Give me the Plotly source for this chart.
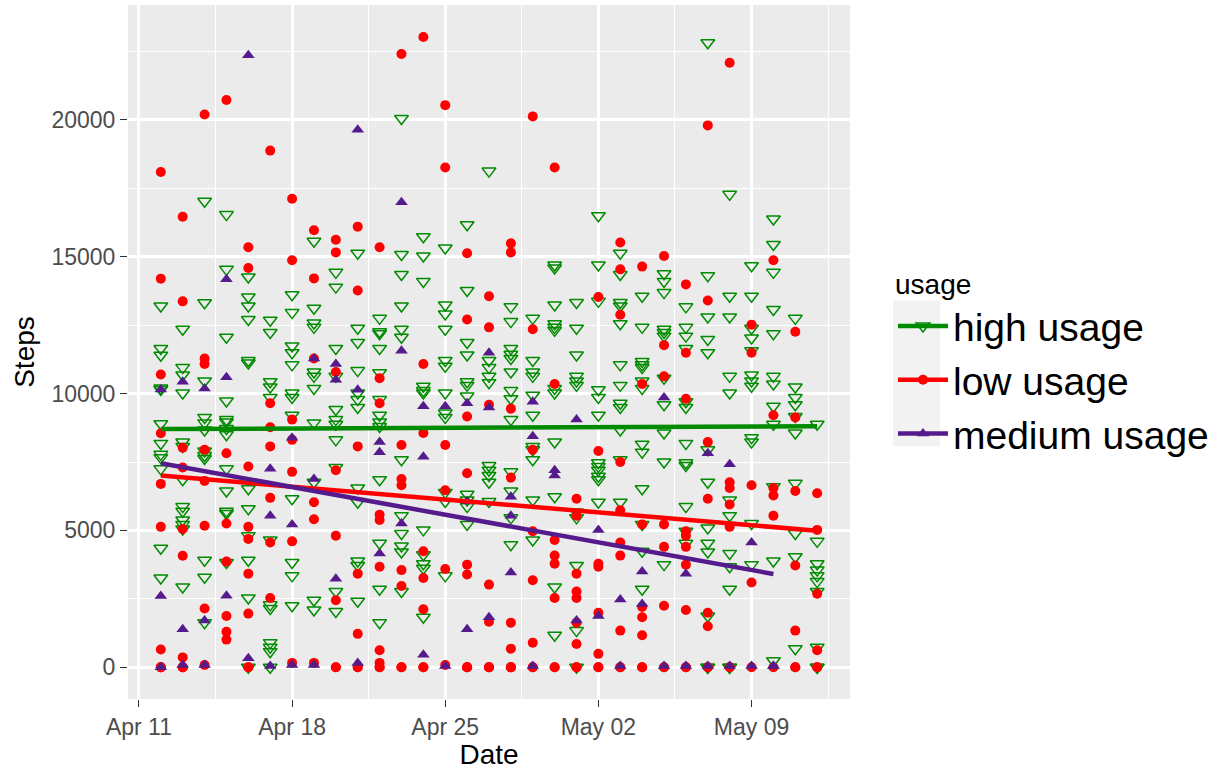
import numpy as np
import pandas as pd
import plotly.graph_objects as go

dates = pd.date_range("2016-04-12", "2016-05-12", freq="D")

high_steps = [
    [13200, 11650, 11400, 10200, 10150, 8900, 8180, 7780, 7660, 7250, 4350, 3260],
    [12350, 10950, 10680, 10020, 8230, 8070, 6850, 5870, 5700, 5380, 5220, 5050, 2930],
    [17030, 13320, 10460, 9130, 8930, 8670, 7900, 7740, 7630, 3910, 3290, 1630],
    [16540, 14540, 12060, 9730, 9050, 8960, 8720, 8500, 7250, 6440, 5700, 5620, 3830],
    [14260, 13530, 13200, 12710, 11210, 11120, 6520, 5790, 4810, 3910, 2530, 0],
    [12680, 12230, 10430, 10240, 9860, 4650, 2280, 2150, 900, 730, 570, 0],
    [13610, 12960, 11740, 11490, 11050, 10020, 9860, 9210, 6160, 3830, 3340, 2250],
    [15570, 13120, 12580, 12420, 10790, 10630, 10190, 8930, 6760, 2450, 2090],
    [14430, 13890, 11650, 10630, 9420, 9050, 8880, 8310, 7300, 2770, 2040],
    [15130, 12390, 11870, 10840, 10020, 9780, 9490, 6550, 6030, 3880, 3720, 2410],
    [12750, 12260, 12190, 11650, 10760, 9780, 9210, 8960, 8800, 6850, 4530, 2850, 1630],
    [20050, 15080, 14350, 13200, 12350, 12060, 7580, 5540, 4890, 4430, 4210, 2770],
    [15730, 15030, 14100, 10270, 10110, 10020, 5020, 4110, 3780, 3620, 1830],
    [15320, 13240, 12910, 12350, 11210, 11000, 10020, 9290, 9130, 6390, 6060, 3340],
    [16170, 13770, 11870, 11410, 10430, 10300, 9910, 6320, 6110, 5870, 5220],
    [18130, 11210, 10950, 10630, 10400, 7370, 7200, 7010, 6760, 6060],
    [13170, 12630, 11650, 11440, 11280, 10790, 10110, 9810, 9050, 7140, 6440, 5460, 4480],
    [12750, 11210, 10790, 10630, 9940, 9210, 8070, 7950, 7580, 6110, 4650],
    [14700, 14590, 13240, 12550, 12420, 12310, 10190, 10020, 8230, 6230, 2930, 1170],
    [13330, 12390, 11410, 10630, 10460, 10300, 5670, 5460, 3720, 1340, 0],
    [16500, 14700, 13370, 10140, 9860, 9210, 7470, 7340, 7200, 6980, 6850, 6030],
    [15130, 14350, 13330, 13200, 12550, 11050, 10300, 9650, 9490, 8670, 7580, 6030],
    [13560, 12420, 11170, 11050, 10950, 10460, 10190, 8150, 7860, 6520, 5220, 4240, 2850],
    [14380, 14100, 13690, 12350, 12230, 12100, 10560, 9590, 8560, 7500, 3750],
    [13170, 12420, 12100, 11650, 9700, 9490, 8180, 7470, 7370, 5870, 4970, 4530],
    [22820, 14310, 12800, 11980, 11490, 7950, 6760, 5090, 4530, 4210, 1870, 0, 0],
    [17280, 13560, 12800, 10630, 10020, 6110, 5540, 4160, 3670, 2850, 0, 0],
    [14670, 13560, 12390, 12030, 11570, 10680, 10460, 10270, 8390, 8230, 5250, 3750],
    [16380, 15450, 14430, 13070, 12190, 10630, 10350, 9540, 8880, 6600, 3880, 240],
    [12750, 10240, 9860, 9590, 9160, 8560, 6720, 4890, 4040, 680],
    [8880, 4600, 3780, 3550, 3340, 3130, 2770, 730, 0, 0],
]

low_steps = [
    [18100, 14200, 10700, 8550, 6700, 5130, 650, 0, 0, 0],
    [16460, 13370, 8020, 7300, 5050, 4075, 360, 0, 0, 0],
    [20200, 11280, 11080, 7950, 6810, 5170, 2150, 80],
    [20730, 7820, 5250, 3860, 1870, 1300, 1010],
    [15350, 14590, 7335, 5130, 4690, 3420, 1960, 0, 0],
    [18880, 9650, 8770, 8070, 6190, 4560, 2530],
    [17120, 14870, 9050, 8310, 7140, 4600, 160],
    [15970, 14210, 11280, 6030, 5410, 160],
    [15620, 15160, 10790, 7200, 4810, 2450, 0, 0],
    [16100, 13770, 8070, 3420, 1220, 0, 0],
    [15350, 10560, 9650, 5570, 5380, 3670, 620, 160, 0, 0],
    [22410, 8120, 6880, 6650, 3550, 2970, 0, 0],
    [23030, 11080, 8560, 4240, 3260, 2120, 0, 0],
    [20540, 18260, 8120, 6470, 3590, 80],
    [15130, 12710, 9160, 7090, 3750, 3390, 0, 0, 0],
    [13560, 12420, 9590, 3020, 1660, 0, 0, 0],
    [15490, 15160, 9450, 6930, 1630, 680, 0, 0, 0],
    [20130, 12350, 7950, 4970, 3180, 900, 0, 0],
    [18260, 10350, 4650, 4080, 3780, 2530, 0, 0],
    [6160, 5540, 3420, 2770, 2530, 1630, 850, 0, 0],
    [13530, 7900, 3780, 3670, 1990, 490, 0, 0],
    [15520, 14540, 12880, 7500, 5740, 4560, 4080, 1340, 0, 0],
    [14640, 10350, 5220, 2200, 1830, 1170, 0, 0],
    [15030, 11770, 10630, 5220, 4400, 2250, 0, 0],
    [13990, 11490, 9810, 4970, 4810, 4400, 3750, 2090, 0, 0],
    [19800, 13400, 8230, 6160, 1990, 1500, 0, 0],
    [22090, 6760, 6550, 5950, 5130, 0, 0],
    [12520, 11490, 6650, 3100, 0],
    [14870, 9210, 6550, 6280, 5540, 0],
    [12260, 9130, 6440, 3720, 1340, 0, 0],
    [6360, 5020, 2690, 620, 0, 0],
]

medium_steps = [
    [10150, 2600, 0],
    [10430, 1390, 80],
    [10190, 1710, 80],
    [14180, 10600, 2610],
    [22360, 330],
    [7250, 5540, 50],
    [8390, 5220, 80],
    [11280, 6880, 80],
    [11080, 10510, 3230],
    [19640, 10140, 160],
    [8230, 7860, 4160],
    [16990, 11570, 5250],
    [9540, 7690, 460],
    [9540, 50],
    [9650, 6060, 1390],
    [11490, 9490, 1830],
    [6230, 5540, 3460],
    [9700, 8440, 50],
    [7200, 7010],
    [9050, 1710],
    [5020, 1870],
    [2480, 50],
    [3500, 2310],
    [9860, 50],
    [3420, 50],
    [7820, 50],
    [7420, 50],
    [4560, 50],
    [50, 50],
    [],
    [],
]

groups = ["high usage", "low usage", "medium usage"]
colors = {"high usage": "#008B00", "low usage": "#FF0000", "medium usage": "#551A8B"}
symbols = {"high usage": "triangle-down-open", "low usage": "circle", "medium usage": "triangle-up"}
sizes = {"high usage": 12, "low usage": 10, "medium usage": 11}
data = {"high usage": high_steps, "low usage": low_steps, "medium usage": medium_steps}

x_ticks = ["2016-04-11", "2016-04-18", "2016-04-25", "2016-05-02", "2016-05-09"]
x_minor = ["2016-04-14 12:00", "2016-04-21 12:00", "2016-04-28 12:00", "2016-05-05 12:00", "2016-05-12 12:00"]
y_ticks = [0, 5000, 10000, 15000, 20000]
y_minor = [2500, 7500, 12500, 17500, 22500]

FONT = "Liberation Sans, Arial, sans-serif"

fig = go.Figure()

for g in groups:
    xs, ys = [], []
    for d, vals in zip(dates, data[g]):
        for v in vals:
            xs.append(d)
            ys.append(v)
    fig.add_trace(go.Scatter(
        x=xs, y=ys, mode="markers", showlegend=False, name=g,
        marker=dict(symbol=symbols[g], size=sizes[g], color=colors[g],
                    line=dict(width=1.5 if "open" in symbols[g] else 0, color=colors[g])),
    ))

t0 = dates[0]
for g in groups:
    xs, ys = [], []
    for d, vals in zip(dates, data[g]):
        for v in vals:
            xs.append((d - t0).days)
            ys.append(v)
    xs = np.array(xs, float)
    ys = np.array(ys, float)
    slope, icept = np.polyfit(xs, ys, 1)
    xr = np.array([xs.min(), xs.max()])
    fig.add_trace(go.Scatter(
        x=[t0 + pd.Timedelta(days=float(v)) for v in xr], y=icept + slope * xr,
        mode="lines", line=dict(color=colors[g], width=4.5), showlegend=False, hoverinfo="skip",
    ))

for g in groups:
    fig.add_trace(go.Scatter(
        x=[None], y=[None], mode="lines+markers", name=g,
        line=dict(color=colors[g], width=4.5),
        marker=dict(symbol=symbols[g], size=sizes[g], color=colors[g],
                    line=dict(width=1.5 if "open" in symbols[g] else 0, color=colors[g])),
    ))

W, H = 1224, 770
L, R, T, B = 128, 374, 5, 65
pw, ph = W - L - R, H - T - B

fig.add_shape(type="rect", xref="paper", yref="paper",
              x0=(893 - L) / pw, x1=(940 - L) / pw,
              y0=(H - B - 450) / ph, y1=(H - B - 303) / ph,
              fillcolor="#F2F2F2", line=dict(width=0), layer="below")

axis_common = dict(
    showline=False, zeroline=False, ticks="outside", ticklen=7, tickwidth=1.4,
    tickcolor="#333333", gridcolor="white", gridwidth=2.5,
    tickfont=dict(family=FONT, size=23, color="#4D4D4D"),
)

fig.update_layout(
    width=W, height=H,
    margin=dict(l=L, r=R, t=T, b=B),
    paper_bgcolor="white", plot_bgcolor="#EBEBEB",
    font=dict(family=FONT, color="black"),
    xaxis=dict(
        **axis_common,
        type="date",
        range=["2016-04-10 12:00", "2016-05-13 12:00"],
        tickvals=x_ticks, tickformat="%b %d",
        minor=dict(tickvals=x_minor, showgrid=True, gridcolor="white", gridwidth=1.2, ticks=""),
        title=dict(text="Date", font=dict(family=FONT, size=28, color="black"), standoff=6),
    ),
    yaxis=dict(
        **axis_common,
        range=[-1160, 24200],
        tickvals=y_ticks, tickformat="d",
        minor=dict(tickvals=y_minor, showgrid=True, gridcolor="white", gridwidth=1.2, ticks=""),
        title=dict(text="Steps", font=dict(family=FONT, size=28, color="black"), standoff=8),
    ),
    legend=dict(
        x=(893 - L) / pw, y=(H - B - 260) / ph, xanchor="left", yanchor="top",
        bgcolor="rgba(0,0,0,0)",
        font=dict(family=FONT, size=39, color="black"),
        title=dict(text="usage", font=dict(family=FONT, size=28, color="black")),
        tracegroupgap=0, itemwidth=50,
    ),
)

fig.write_html("out.html")
